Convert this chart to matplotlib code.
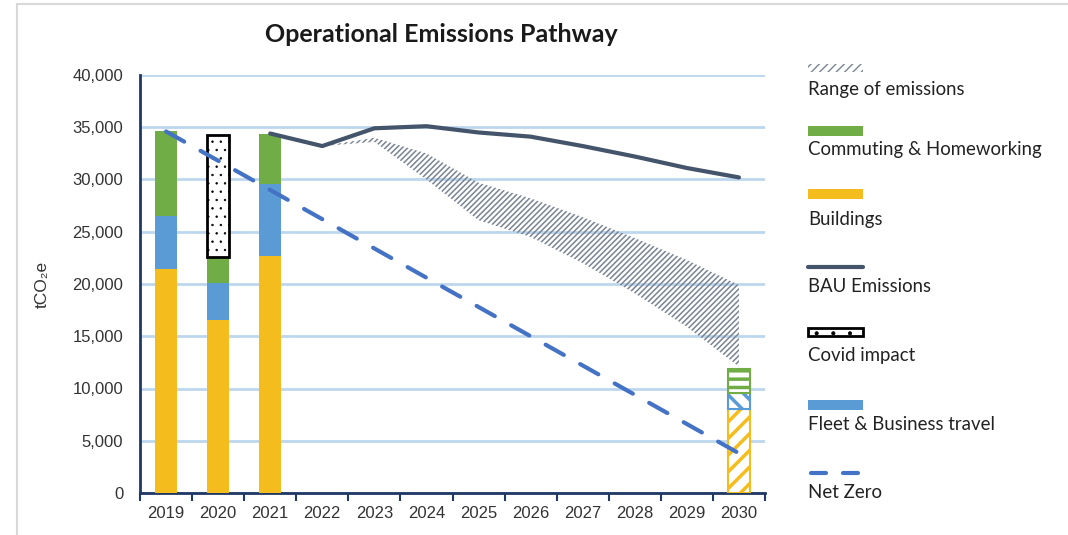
import matplotlib
matplotlib.use("Agg")
import matplotlib.pyplot as plt
from matplotlib.patches import Rectangle
from matplotlib.lines import Line2D
import numpy as np

years = ["2019", "2020", "2021", "2022", "2023", "2024", "2025", "2026", "2027", "2028", "2029", "2030"]

# stacked bars (tCO2e), actual years
bar_years = ["2019", "2020", "2021"]
buildings = [21400, 16600, 22700]
fleet = [5100, 3500, 6900]
commuting = [8100, 2500, 4800]
covid_top = 34300   # 2020 covid impact box spans from bar top up to here

# 2030 target bar
target_buildings = 8000
target_fleet = 1600
target_commuting = 2300

# BAU emissions 2021-2030
bau_years = ["2021", "2022", "2023", "2024", "2025", "2026", "2027", "2028", "2029", "2030"]
bau = [34400, 33200, 34900, 35100, 34500, 34100, 33200, 32200, 31100, 30200]

# range of emissions 2022-2030
range_years = ["2022", "2023", "2024", "2025", "2026", "2027", "2028", "2029", "2030"]
range_upper = [33200, 34000, 32500, 29700, 28200, 26400, 24400, 22300, 19900]
range_lower = [33200, 33600, 30000, 26100, 24500, 22000, 19100, 15900, 12100]

# net zero pathway
net_zero = [34600, 31800, 29000, 26200, 23400, 20600, 17800, 15000, 12200, 9400, 6600, 3800]

GREEN = "#70AD47"
YELLOW = "#F4BC1C"
BLUE = "#5B9BD5"
BAU_C = "#44546A"
NZ_C = "#4472C4"
GRID_C = "#BDD7EE"
AXIS_C = "#1F3864"
HATCH_C = "#7A8494"

W, H = 1068, 535
fig = plt.figure(figsize=(W / 100, H / 100), dpi=100)
ax = fig.add_axes([140 / W, 1 - 493 / H, 625 / W, 418 / H])

idx = {y: i for i, y in enumerate(years)}
bx = np.array([idx[y] for y in bar_years])
bw = 0.42

b1 = np.array(buildings)
b2 = b1 + np.array(fleet)
ax.bar(bx, buildings, bw, color=YELLOW, zorder=3)
ax.bar(bx, fleet, bw, bottom=b1, color=BLUE, zorder=3)
ax.bar(bx, commuting, bw, bottom=b2, color=GREEN, zorder=3)

# covid impact box on 2020
top2020 = b2[1] + commuting[1]
cv = ax.bar(idx["2020"], covid_top - top2020, bw, bottom=top2020, facecolor="white",
            edgecolor="black", linewidth=2, hatch="..", zorder=3)
for p in cv:
    if hasattr(p, "set_hatch_linewidth"):
        p.set_hatch_linewidth(0.5)

# 2030 hatched target bar
x30 = idx["2030"]
t1 = ax.bar(x30, target_buildings, bw, facecolor="white", edgecolor=YELLOW,
            linewidth=1.5, hatch="//", zorder=3)
t2 = ax.bar(x30, target_fleet, bw, bottom=target_buildings, facecolor="white",
            edgecolor=BLUE, linewidth=1.5, hatch="\\\\", zorder=3)
t3 = ax.bar(x30, target_commuting, bw, bottom=target_buildings + target_fleet,
            facecolor="white", edgecolor=GREEN, linewidth=1.5, hatch="--", zorder=3)
for c in (t1, t2, t3):
    for p in c:
        if hasattr(p, "set_hatch_linewidth"):
            p.set_hatch_linewidth(2.5)

# range of emissions
rx = [idx[y] for y in range_years]
rng = ax.fill_between(rx, range_lower, range_upper, facecolor="none", edgecolor=HATCH_C,
                      linewidth=0, hatch="//////", zorder=2)
if hasattr(rng, "set_hatch_linewidth"):
    rng.set_hatch_linewidth(1.1)

# BAU line
ax.plot([idx[y] for y in bau_years], bau, color=BAU_C, linewidth=3, zorder=4,
        solid_capstyle="round")

# Net zero line
ax.plot(range(len(years)), net_zero, color=NZ_C, linewidth=3, linestyle=(0, (5, 4.5)),
        dash_capstyle="round", zorder=5)

ax.set_xlim(-0.5, 11.5)
ax.set_ylim(0, 40000)
ax.set_yticks(range(0, 40001, 5000))
ax.set_yticklabels([f"{v:,}" for v in range(0, 40001, 5000)], fontsize=12,
                   family="Liberation Sans", color="#333333")
ax.tick_params(axis="y", length=0, pad=12)
ax.set_xticks(np.arange(-0.5, 12, 1))
ax.set_xticklabels([])
ax.set_xticks(range(len(years)), minor=True)
ax.set_xticklabels(years, minor=True, fontsize=12, family="Liberation Sans", color="#333333")
ax.tick_params(axis="x", which="major", length=6, width=1.5, color=AXIS_C)
ax.tick_params(axis="x", which="minor", length=0, pad=9)

ax.grid(axis="y", color=GRID_C, linewidth=2, zorder=0)
ax.set_axisbelow(True)
for s in ("top", "right"):
    ax.spines[s].set_visible(False)
for s in ("left", "bottom"):
    ax.spines[s].set_color(AXIS_C)
    ax.spines[s].set_linewidth(2)

ax.set_ylabel("tCO\u2082e", fontsize=12.5, family=["Liberation Sans", "DejaVu Sans"],
              color="#333333", labelpad=16)

fig.text(441 / W, 1 - 35 / H, "Operational Emissions Pathway", fontsize=18,
         fontweight="bold", family="Lato", ha="center", va="center", color="#1a1a1a")

# page border
fig.add_artist(Line2D([16.5 / W, 16.5 / W], [0, 1 - 4 / H], color="#D9D9D9", linewidth=1.5))
fig.add_artist(Line2D([16.5 / W, 1], [1 - 4 / H, 1 - 4 / H], color="#D9D9D9", linewidth=1.5))

# legend
lx0, lx1 = 808, 863


def fy(py):
    return 1 - py / H


def rect(ycen, h, **kw):
    r = Rectangle((lx0 / W, fy(ycen + h / 2)), (lx1 - lx0) / W, h / H,
                  transform=fig.transFigure, **kw)
    fig.add_artist(r)
    return r


rect(68, 8, facecolor="none", edgecolor=HATCH_C, linewidth=0, hatch="////")
rect(131, 10, facecolor=GREEN, edgecolor="none")
rect(194, 10, facecolor=YELLOW, edgecolor="none")
fig.add_artist(Line2D([lx0 / W, lx1 / W], [fy(267), fy(267)], color=BAU_C, linewidth=3,
                      solid_capstyle="round"))
cr = rect(332, 8, facecolor="white", edgecolor="black", linewidth=2, hatch=".")
if hasattr(cr, "set_hatch_linewidth"):
    cr.set_hatch_linewidth(0.5)
rect(405, 10, facecolor=BLUE, edgecolor="none")
fig.add_artist(Line2D([811 / W, 826 / W], [fy(473), fy(473)], color=NZ_C, linewidth=3,
                      solid_capstyle="round"))
fig.add_artist(Line2D([843 / W, 858 / W], [fy(473), fy(473)], color=NZ_C, linewidth=3,
                      solid_capstyle="round"))

labels = [("Range of emissions", 89), ("Commuting & Homeworking", 150), ("Buildings", 220),
          ("BAU Emissions", 287), ("Covid impact", 356), ("Fleet & Business travel", 424),
          ("Net Zero", 493)]
for txt, py in labels:
    fig.text(lx0 / W, fy(py), txt, fontsize=13.4, family="Lato", ha="left", va="center",
             color="#222222")

fig.savefig("out.png", dpi=100)
